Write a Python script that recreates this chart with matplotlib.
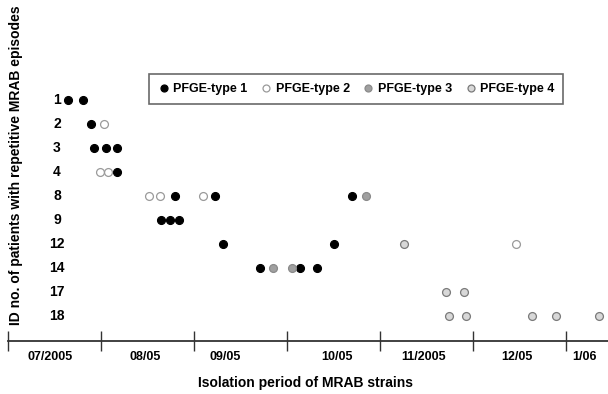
import matplotlib
matplotlib.use("Agg")
import matplotlib.pyplot as plt
from matplotlib.lines import Line2D

plt.rcParams['font.family'] = ['Liberation Sans', 'DejaVu Sans']
plt.rcParams['font.weight'] = 'bold'

# Patient IDs (rows, top to bottom)
patients = ['1', '2', '3', '4', '8', '9', '12', '14', '17', '18']

# Month labels (isolation period); month boundaries at 0..7
months = ['07/2005', '08/05', '09/05', '10/05', '11/2005', '12/05', '1/06']

# Isolation time (months since 1 Jul 2005) and PFGE type, per patient
iso_time = {
    '1':  [0.645, 0.806],
    '2':  [0.892, 1.03],
    '3':  [0.925, 1.05, 1.17],
    '4':  [0.99, 1.08, 1.17],
    '8':  [1.52, 1.63, 1.80, 2.10, 2.23, 3.70, 3.85],
    '9':  [1.64, 1.74, 1.84],
    '12': [2.31, 3.51, 4.26, 5.46],
    '14': [2.71, 2.85, 3.05, 3.14, 3.32],
    '17': [4.71, 4.90],
    '18': [4.74, 4.92, 5.63, 5.89, 6.36],
}
pfge_type = {
    '1':  [1, 1],
    '2':  [1, 2],
    '3':  [1, 1, 1],
    '4':  [2, 2, 1],
    '8':  [2, 2, 1, 2, 1, 1, 3],
    '9':  [1, 1, 1],
    '12': [1, 1, 4, 2],
    '14': [1, 3, 3, 1, 1],
    '17': [4, 4],
    '18': [4, 4, 4, 4, 4],
}
type_names = ['PFGE-type 1', 'PFGE-type 2', 'PFGE-type 3', 'PFGE-type 4']

styles = {
    1: dict(facecolor='#000000', edgecolor='#000000'),
    2: dict(facecolor='#ffffff', edgecolor='#9a9a9a'),
    3: dict(facecolor='#a0a0a0', edgecolor='#8a8a8a'),
    4: dict(facecolor='#d8d8d8', edgecolor='#7a7a7a'),
}

W, H = 608, 394
fig = plt.figure(figsize=(W / 100, H / 100), dpi=100)
ax = fig.add_axes([8 / W, 53 / H, 600 / W, 341 / H])

for t in (1, 2, 3, 4):
    xs, ys = [], []
    for i, p in enumerate(patients):
        for x, tt in zip(iso_time[p], pfge_type[p]):
            if tt == t:
                xs.append(x)
                ys.append(i)
    ax.scatter(xs, ys, s=32, linewidths=0.9, zorder=3, **styles[t])

ax.set_xlim(0, 600 / 93)
ax.set_ylim(9 + 25 / 24, -100 / 24)

for s in ('top', 'right', 'left'):
    ax.spines[s].set_visible(False)
ax.spines['bottom'].set_linewidth(1.3)
ax.spines['bottom'].set_color('#333333')

ax.set_yticks([])
ax.set_xticks(range(7))
ax.set_xticklabels([])
ax.tick_params(axis='x', which='major', direction='inout', length=15, width=1.0, color='#333333')
label_offsets = [0.45, 0.47, 0.33, 0.54, 0.47, 0.47, 0.2]
ax.set_xticks([i + o for i, o in enumerate(label_offsets)], minor=True)
ax.set_xticklabels(months, minor=True, fontsize=9, fontweight='bold')
ax.tick_params(axis='x', which='minor', length=0, pad=7)

for i, p in enumerate(patients):
    ax.text(49 / 600, i, p, transform=ax.get_yaxis_transform(), ha='center', va='center',
            fontsize=10, fontweight='bold')

fig.text(305 / W, 1 - 383 / H, 'Isolation period of MRAB strains', ha='center', va='center',
         fontsize=10, fontweight='bold')
fig.text(16 / W, 1 - 165 / H, 'ID no. of patients with repetitive MRAB episodes', ha='center',
         va='center', rotation=90, fontsize=10, fontweight='bold')

handles = [Line2D([], [], linestyle='none', marker='o', markersize=5.0,
                  markerfacecolor=styles[t]['facecolor'], markeredgecolor=styles[t]['edgecolor'],
                  markeredgewidth=0.9) for t in (1, 2, 3, 4)]
leg = fig.legend(handles, type_names, ncol=4, loc='center', bbox_to_anchor=(356 / W, 1 - 89 / H),
                 frameon=True, fancybox=False, edgecolor='#444444', handletextpad=0.25,
                 columnspacing=1.0, handlelength=1.0, borderpad=0.7,
                 prop={'size': 9, 'weight': 'bold'})
leg.get_frame().set_linewidth(1.2)

fig.savefig('out.png', dpi=100)
